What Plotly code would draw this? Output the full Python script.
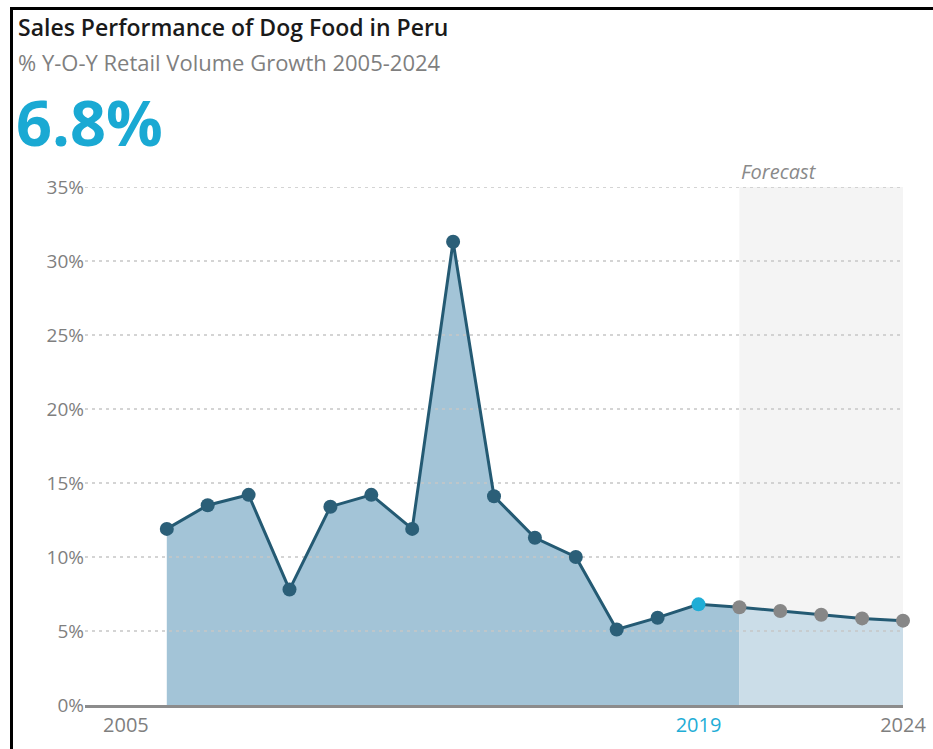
import plotly.graph_objects as go

# Year-on-year retail volume growth of dog food in Peru (%)
years_hist = [2006, 2007, 2008, 2009, 2010, 2011, 2012, 2013, 2014, 2015,
              2016, 2017, 2018, 2019]
growth_hist = [11.9, 13.5, 14.2, 7.8, 13.4, 14.2, 11.9, 31.3, 14.1, 11.3,
               10.0, 5.1, 5.9, 6.8]
years_fcst = [2020, 2021, 2022, 2023, 2024]
growth_fcst = [6.6, 6.35, 6.1, 5.85, 5.7]

current_year = 2019
current_value = 6.8
y_ticks = [0, 5, 10, 15, 20, 25, 30, 35]
x_ticks = [2005, 2019, 2024]

W, H = 933, 749
L, R, T, B = 85, 30, 187, 44
PW, PH = W - L - R, H - T - B

DARK = "#245a73"
DOT = "#2b5f78"
CYAN = "#1fadd6"
GREY_DOT = "#878787"
TXT = "#7f7f7f"


def px_x(p):
    return (p - L) / PW


def px_y(p):
    return (H - B - p) / PH


years_all = years_hist + years_fcst
growth_all = growth_hist + growth_fcst

fig = go.Figure()

# shaded area under the historical series (runs up to the first forecast year)
fig.add_trace(go.Scatter(
    x=years_hist + years_fcst[:1], y=growth_hist + growth_fcst[:1],
    mode="none", fill="tozeroy", fillcolor="#a3c4d7", hoverinfo="skip",
))
# lighter area under the forecast
fig.add_trace(go.Scatter(
    x=years_fcst, y=growth_fcst,
    mode="none", fill="tozeroy", fillcolor="#cbdde8", hoverinfo="skip",
))

# dotted grid drawn over the filled areas
for v in y_ticks[1:]:
    fig.add_trace(go.Scatter(
        x=[2004, 2024], y=[v, v], mode="lines",
        line=dict(color="#c6c6c6", width=1.6, dash="3px,4px"),
        hoverinfo="skip",
    ))

marker_colors = []
for yr in years_all:
    if yr == current_year:
        marker_colors.append(CYAN)
    elif yr in years_fcst:
        marker_colors.append(GREY_DOT)
    else:
        marker_colors.append(DOT)

fig.add_trace(go.Scatter(
    x=years_all, y=growth_all, mode="lines+markers",
    line=dict(color=DARK, width=3),
    marker=dict(size=14, color=marker_colors),
    cliponaxis=False,
))

shapes = [
    # forecast background band
    dict(type="rect", xref="x", yref="y", x0=2020, x1=2024, y0=0, y1=35,
         fillcolor="#f4f4f4", line=dict(width=0), layer="below"),
    # frame edges
    dict(type="line", xref="paper", yref="paper",
         x0=px_x(11), x1=px_x(W + 5), y0=px_y(8.5), y1=px_y(8.5),
         line=dict(color="#000000", width=3)),
    dict(type="line", xref="paper", yref="paper",
         x0=px_x(11.5), x1=px_x(11.5), y0=px_y(7), y1=px_y(H + 5),
         line=dict(color="#000000", width=3)),
]

annotations = [
    dict(text="Sales Performance of Dog Food in Peru", xref="paper", yref="paper",
         x=px_x(16), y=px_y(27), xanchor="left", yanchor="middle", showarrow=False,
         font=dict(family="Open Sans", size=23, color="#1a1a1a", weight=600)),
    dict(text="% Y-O-Y Retail Volume Growth 2005-2024", xref="paper", yref="paper",
         x=px_x(16), y=px_y(62), xanchor="left", yanchor="middle", showarrow=False,
         font=dict(family="Open Sans", size=22, color=TXT)),
    dict(text=f"{current_value}%", xref="paper", yref="paper",
         x=px_x(14), y=px_y(121), xanchor="left", yanchor="middle", showarrow=False,
         font=dict(family="Open Sans", size=63, color="#1aa9d3", weight=700)),
    dict(text="<i>Forecast</i>", xref="x", yref="paper",
         x=2020, y=px_y(171), xanchor="left", yanchor="middle", showarrow=False,
         font=dict(family="Open Sans", size=20, color="#8a8a8a")),
]

tick_text = [f"<span style='color:{CYAN}'>{t}</span>" if t == current_year else str(t)
             for t in x_ticks]

fig.update_layout(
    width=W, height=H,
    margin=dict(l=L, r=R, t=T, b=B, autoexpand=False),
    paper_bgcolor="white", plot_bgcolor="rgba(0,0,0,0)",
    showlegend=False,
    shapes=shapes, annotations=annotations,
    font=dict(family="Open Sans", size=20, color=TXT),
    xaxis=dict(range=[2004, 2024], tickvals=x_ticks, ticktext=tick_text,
               showgrid=False, zeroline=False, showline=True, automargin=False,
               linecolor="#8c8c8c", linewidth=3, ticks="",
               tickfont=dict(size=20, color=TXT), fixedrange=True),
    yaxis=dict(range=[0, 35], tickvals=y_ticks, automargin=False,
               ticktext=[f"{v}%" for v in y_ticks],
               showgrid=False, zeroline=False, showline=False, ticks="",
               tickfont=dict(size=19, color=TXT), fixedrange=True),
)

fig.write_html("out.html")
